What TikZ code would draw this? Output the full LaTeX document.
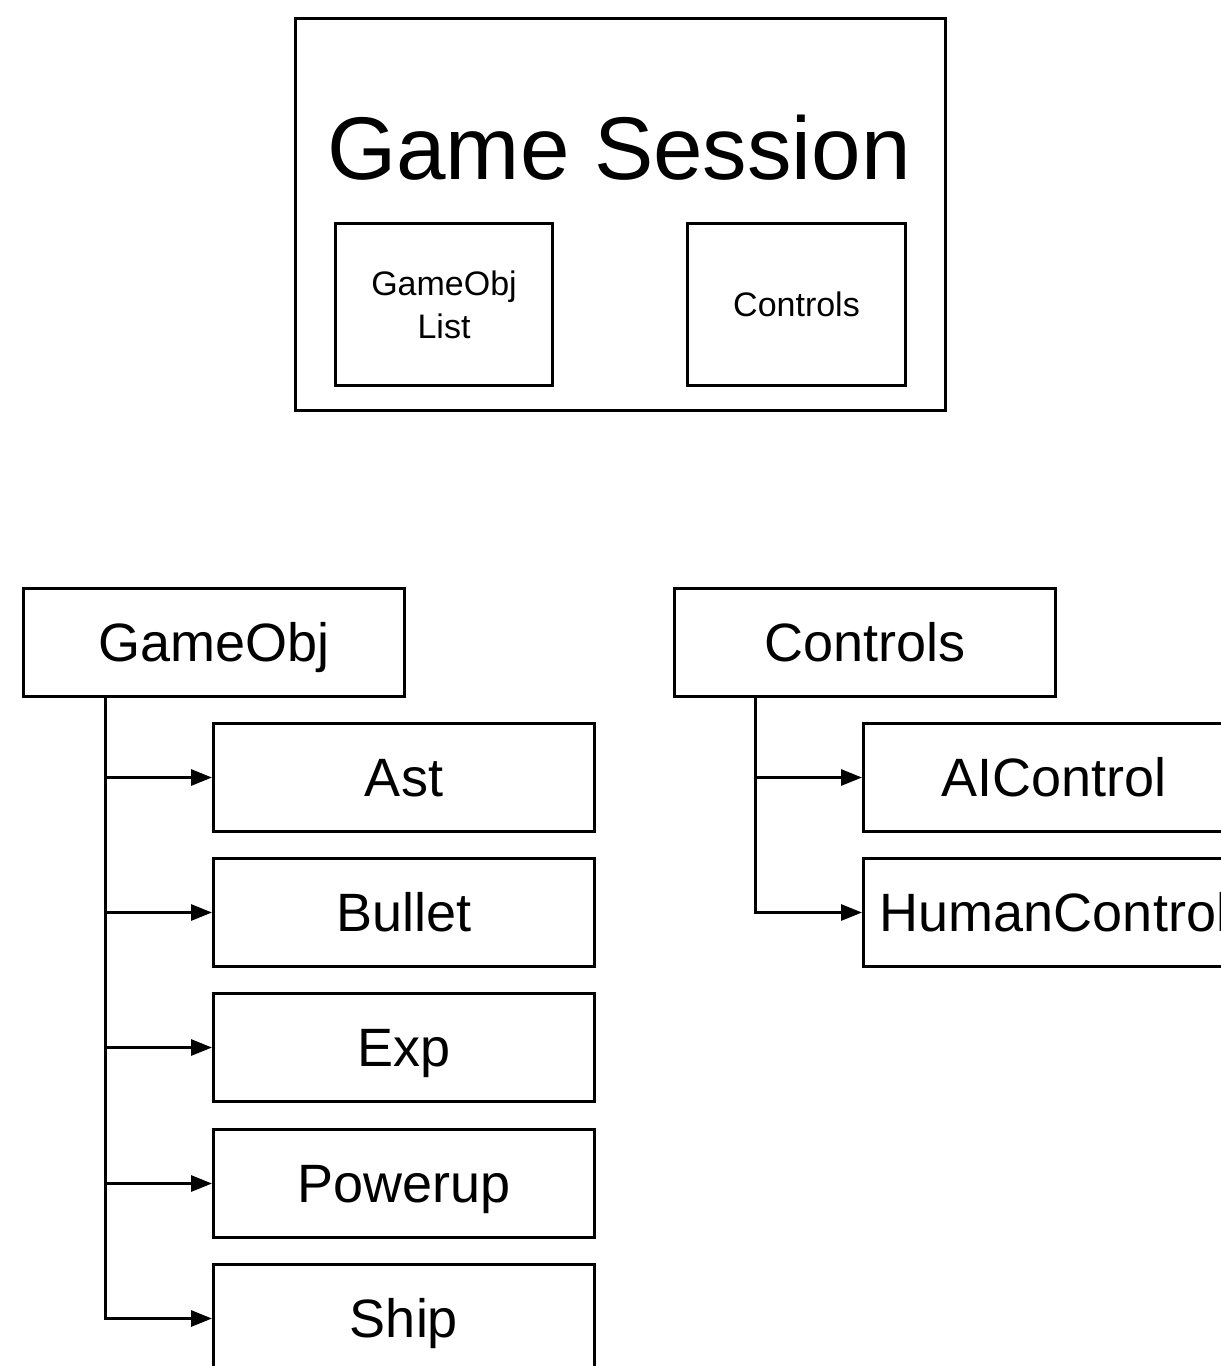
\documentclass[tikz,border=0pt]{standalone}
\usepackage{fontspec}
\setmainfont{Liberation Sans}
\usetikzlibrary{arrows.meta}
\begin{document}
\begin{tikzpicture}[x=1pt,y=-1pt,
  box/.style={draw=black, line width=3pt, fill=white, rectangle, inner sep=0pt, anchor=north west},
  classbox/.style={box, minimum width=381pt, minimum height=108pt,
    font=\fontsize{54}{60}\selectfont, text height=38.7pt, text depth=0pt},
  slotbox/.style={box, minimum width=217pt, minimum height=162pt,
    align=center, font=\fontsize{34}{43}\selectfont},
  link/.style={draw=black, line width=3pt, -{Triangle[length=21pt,width=16pt]}}
]
\useasboundingbox (0,0) rectangle (1221,1366);
\clip (0,0) rectangle (1221,1366);
\fill[white] (0,0) rectangle (1221,1366);

% session container with its two slots
\node[box, minimum width=650pt, minimum height=392pt] (session) at (294,17) {};
\node[font=\fontsize{89}{100}\selectfont, text height=63.7pt, text depth=0pt, inner sep=0pt]
  (title) at (619,148) {Game Session};
\node[slotbox] (objlist) at (334,222) {GameObj\\List};
\node[slotbox, minimum width=218pt] (ctrlslot) at (686,222) {Controls};

% GameObj hierarchy
\node[classbox] (gameobj) at (22,587) {GameObj};
\node[classbox] (ast)     at (212,722) {Ast};
\node[classbox] (bullet)  at (212,857) {Bullet};
\node[classbox] (exp)     at (212,992) {Exp};
\node[classbox] (powerup) at (212,1128) {Powerup};
\node[classbox] (ship)    at (212,1263) {Ship};

\foreach \child in {ast,bullet,exp,powerup,ship}
  \draw[link] ([xshift=83pt]gameobj.south west) |- (\child.west);

% Controls hierarchy
\node[classbox] (controls) at (673,587) {Controls};
\node[classbox] (aictrl)   at (862,722) {AIControl};
\node[classbox] (humanctrl) at (862,857) {HumanControl};

\foreach \child in {aictrl,humanctrl}
  \draw[link] ([xshift=82pt]controls.south west) |- (\child.west);
\end{tikzpicture}
\end{document}
